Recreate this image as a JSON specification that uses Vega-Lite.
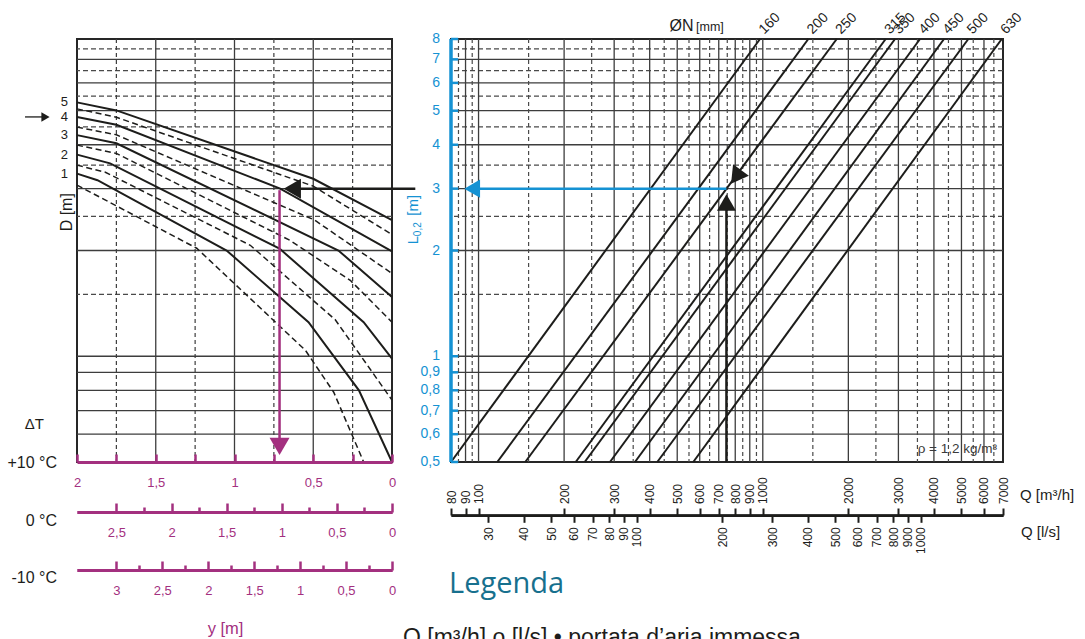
{
 "$schema": "https://vega.github.io/schema/vega-lite/v6.json",
 "autosize": {"type": "pad"},
 "padding": {"left": 6, "top": 9, "right": 5, "bottom": 0},
 "bounds": "flush",
 "spacing": 59,
 "config": {
  "view": {"stroke": "#262626", "strokeWidth": 2},
  "font": "Liberation Sans",
  "axis": {"grid": false, "labelFont": "Liberation Sans", "labelOverlap": false, "labelFlush": false, "labelBound": false},
  "text": {"font": "Liberation Sans"}
 },
 "datasets": {
  "hgrid": [
   {"L": 0.6, "k": "s"}, {"L": 0.7, "k": "s"}, {"L": 0.8, "k": "s"}, {"L": 0.9, "k": "s"}, {"L": 1, "k": "s"},
   {"L": 2, "k": "s"}, {"L": 3, "k": "s"}, {"L": 4, "k": "s"}, {"L": 5, "k": "s"}, {"L": 6, "k": "s"}, {"L": 7, "k": "s"},
   {"L": 1.5, "k": "d"}, {"L": 2.5, "k": "d"}, {"L": 3.5, "k": "d"}, {"L": 4.5, "k": "d"}, {"L": 5.5, "k": "d"}, {"L": 6.5, "k": "d"}, {"L": 7.5, "k": "d"}
  ],
  "yticks": [
   {"L": 0.5, "lab": "0,5"}, {"L": 0.6, "lab": "0,6"}, {"L": 0.7, "lab": "0,7"}, {"L": 0.8, "lab": "0,8"}, {"L": 0.9, "lab": "0,9"},
   {"L": 1, "lab": "1"}, {"L": 2, "lab": "2"}, {"L": 3, "lab": "3"}, {"L": 4, "lab": "4"}, {"L": 5, "lab": "5"},
   {"L": 6, "lab": "6"}, {"L": 7, "lab": "7"}, {"L": 8, "lab": "8"}
  ],
  "vgridL": [
   {"ym": 0.5, "k": "s"}, {"ym": 1, "k": "s"}, {"ym": 1.5, "k": "s"},
   {"ym": 0.25, "k": "d"}, {"ym": 0.75, "k": "d"}, {"ym": 1.25, "k": "d"}, {"ym": 1.75, "k": "d"}
  ],
  "vgridR": [
   {"Q": 90, "k": "s"}, {"Q": 100, "k": "s"}, {"Q": 200, "k": "s"}, {"Q": 300, "k": "s"}, {"Q": 400, "k": "s"}, {"Q": 500, "k": "s"},
   {"Q": 600, "k": "s"}, {"Q": 700, "k": "s"}, {"Q": 800, "k": "s"}, {"Q": 900, "k": "s"}, {"Q": 1000, "k": "s"}, {"Q": 2000, "k": "s"},
   {"Q": 3000, "k": "s"}, {"Q": 4000, "k": "s"}, {"Q": 5000, "k": "s"}, {"Q": 6000, "k": "s"},
   {"Q": 85, "k": "d"}, {"Q": 95, "k": "d"}, {"Q": 150, "k": "d"}, {"Q": 250, "k": "d"}, {"Q": 350, "k": "d"}, {"Q": 450, "k": "d"},
   {"Q": 550, "k": "d"}, {"Q": 650, "k": "d"}, {"Q": 750, "k": "d"}, {"Q": 850, "k": "d"}, {"Q": 950, "k": "d"}, {"Q": 1500, "k": "d"},
   {"Q": 2500, "k": "d"}, {"Q": 3500, "k": "d"}, {"Q": 4500, "k": "d"}, {"Q": 5500, "k": "d"}, {"Q": 6500, "k": "d"}
  ],
  "curves": [
   {"D": "5", "k": "s", "ym": 2, "L": 5.28}, {"D": "5", "k": "s", "ym": 1.75, "L": 5.01}, {"D": "5", "k": "s", "ym": 0.5, "L": 3.2}, {"D": "5", "k": "s", "ym": 0, "L": 2.44},
   {"D": "4.5", "k": "d", "ym": 2, "L": 5.06}, {"D": "4.5", "k": "d", "ym": 1.75, "L": 4.79}, {"D": "4.5", "k": "d", "ym": 0.5, "L": 3.05}, {"D": "4.5", "k": "d", "ym": 0, "L": 2.22},
   {"D": "4", "k": "s", "ym": 2, "L": 4.8}, {"D": "4", "k": "s", "ym": 1.75, "L": 4.56}, {"D": "4", "k": "s", "ym": 0.71, "L": 3.0}, {"D": "4", "k": "s", "ym": 0, "L": 1.99},
   {"D": "3.5", "k": "d", "ym": 2, "L": 4.49}, {"D": "3.5", "k": "d", "ym": 1.75, "L": 4.27}, {"D": "3.5", "k": "d", "ym": 0.49, "L": 2.44}, {"D": "3.5", "k": "d", "ym": 0, "L": 1.72},
   {"D": "3", "k": "s", "ym": 2, "L": 4.26}, {"D": "3", "k": "s", "ym": 1.75, "L": 4.04}, {"D": "3", "k": "s", "ym": 0.34, "L": 2.0}, {"D": "3", "k": "s", "ym": 0, "L": 1.475},
   {"D": "2.5", "k": "d", "ym": 2, "L": 3.99}, {"D": "2.5", "k": "d", "ym": 1.75, "L": 3.78}, {"D": "2.5", "k": "d", "ym": 0.65, "L": 2.14}, {"D": "2.5", "k": "d", "ym": 0.265, "L": 1.645}, {"D": "2.5", "k": "d", "ym": 0, "L": 1.25},
   {"D": "2", "k": "s", "ym": 2, "L": 3.75}, {"D": "2", "k": "s", "ym": 1.79, "L": 3.54}, {"D": "2", "k": "s", "ym": 0.714, "L": 2.025}, {"D": "2", "k": "s", "ym": 0.18, "L": 1.25}, {"D": "2", "k": "s", "ym": 0, "L": 0.985},
   {"D": "1.5", "k": "d", "ym": 2, "L": 3.5}, {"D": "1.5", "k": "d", "ym": 1.82, "L": 3.34}, {"D": "1.5", "k": "d", "ym": 0.9, "L": 2.07}, {"D": "1.5", "k": "d", "ym": 0.36, "L": 1.27}, {"D": "1.5", "k": "d", "ym": 0, "L": 0.75},
   {"D": "1", "k": "s", "ym": 2, "L": 3.31}, {"D": "1", "k": "s", "ym": 1.87, "L": 3.17}, {"D": "1", "k": "s", "ym": 1.05, "L": 2.0}, {"D": "1", "k": "s", "ym": 0.53, "L": 1.25}, {"D": "1", "k": "s", "ym": 0.21, "L": 0.8}, {"D": "1", "k": "s", "ym": 0, "L": 0.5},
   {"D": "0.5", "k": "d", "ym": 2, "L": 3.07}, {"D": "0.5", "k": "d", "ym": 1.24, "L": 2.03}, {"D": "0.5", "k": "d", "ym": 0.55, "L": 1.04}, {"D": "0.5", "k": "d", "ym": 0.37, "L": 0.79}, {"D": "0.5", "k": "d", "ym": 0.18, "L": 0.5}
  ],
  "dn": [
   {"DN": "160", "end": "b", "Q": 80, "L": 0.5}, {"DN": "160", "end": "t", "Q": 977.7, "L": 8},
   {"DN": "200", "end": "b", "Q": 116.4, "L": 0.5}, {"DN": "200", "end": "t", "Q": 1446, "L": 8},
   {"DN": "250", "end": "b", "Q": 146, "L": 0.5}, {"DN": "250", "end": "t", "Q": 1820, "L": 8},
   {"DN": "315", "end": "b", "Q": 219.7, "L": 0.5}, {"DN": "315", "end": "t", "Q": 2706, "L": 8},
   {"DN": "350", "end": "b", "Q": 236.3, "L": 0.5}, {"DN": "350", "end": "t", "Q": 2919, "L": 8},
   {"DN": "400", "end": "b", "Q": 290, "L": 0.5}, {"DN": "400", "end": "t", "Q": 3574, "L": 8},
   {"DN": "450", "end": "b", "Q": 355.1, "L": 0.5}, {"DN": "450", "end": "t", "Q": 4341, "L": 8},
   {"DN": "500", "end": "b", "Q": 425.4, "L": 0.5}, {"DN": "500", "end": "t", "Q": 5286, "L": 8},
   {"DN": "630", "end": "b", "Q": 569.4, "L": 0.5}, {"DN": "630", "end": "t", "Q": 6930, "L": 8}
  ],
  "dlabels": [
   {"lab": "5", "L": 5.28}, {"lab": "4", "L": 4.8}, {"lab": "3", "L": 4.26}, {"lab": "2", "L": 3.75}, {"lab": "1", "L": 3.31}
  ]
 },
 "hconcat": [
  {
   "width": 315,
   "height": 423,
   "resolve": {"scale": {"x": "independent"}},
   "layer": [
    {"data": {"name": "hgrid"}, "transform": [{"filter": "datum.k == 's'"}],
     "mark": {"type": "rule", "color": "#3d3d3d", "strokeWidth": 1.3},
     "encoding": {"y": {"field": "L", "type": "quantitative", "scale": {"type": "log", "domain": [0.5, 8], "nice": false}, "axis": null}}},
    {"data": {"name": "hgrid"}, "transform": [{"filter": "datum.k == 'd'"}],
     "mark": {"type": "rule", "color": "#4a4a4a", "strokeWidth": 1.2, "strokeDash": [5, 3]},
     "encoding": {"y": {"field": "L", "type": "quantitative", "scale": {"type": "log", "domain": [0.5, 8], "nice": false}, "axis": null}}},
    {"data": {"name": "vgridL"}, "transform": [{"filter": "datum.k == 's'"}],
     "mark": {"type": "rule", "color": "#3d3d3d", "strokeWidth": 1.3},
     "encoding": {"x": {"field": "ym", "type": "quantitative", "scale": {"domain": [0, 2], "reverse": true, "nice": false, "zero": false},
       "axis": {"orient": "bottom", "values": [0, 0.25, 0.5, 0.75, 1, 1.25, 1.5, 1.75, 2], "format": "~g",
        "labelExpr": "datum.value * 2 % 1 == 0 ? replace(datum.label, '.', ',') : ''",
        "tickSize": -8, "tickWidth": 2.5, "tickColor": "#a3307f", "domainColor": "#a3307f", "domainWidth": 3,
        "labelColor": "#a3307f", "labelFontSize": 13, "labelPadding": 22, "title": null, "zindex": 1}}}},
    {"data": {"name": "vgridL"}, "transform": [{"filter": "datum.k == 'd'"}],
     "mark": {"type": "rule", "color": "#3d3d3d", "strokeWidth": 1.2, "strokeDash": [4, 3]},
     "encoding": {"x": {"field": "ym", "type": "quantitative", "scale": {"domain": [0, 2], "reverse": true, "nice": false, "zero": false}, "axis": null}}},
    {"data": {"name": "curves"}, "transform": [{"filter": "datum.k == 's'"}],
     "mark": {"type": "line", "color": "#1d1d1b", "strokeWidth": 2},
     "encoding": {
      "x": {"field": "ym", "type": "quantitative", "scale": {"domain": [0, 2], "reverse": true, "nice": false, "zero": false}, "axis": null},
      "y": {"field": "L", "type": "quantitative", "scale": {"type": "log", "domain": [0.5, 8], "nice": false}, "axis": null},
      "detail": {"field": "D", "type": "nominal"}}},
    {"data": {"name": "curves"}, "transform": [{"filter": "datum.k == 'd'"}],
     "mark": {"type": "line", "color": "#1d1d1b", "strokeWidth": 1.5, "strokeDash": [6, 3.5]},
     "encoding": {
      "x": {"field": "ym", "type": "quantitative", "scale": {"domain": [0, 2], "reverse": true, "nice": false, "zero": false}, "axis": null},
      "y": {"field": "L", "type": "quantitative", "scale": {"type": "log", "domain": [0.5, 8], "nice": false}, "axis": null},
      "detail": {"field": "D", "type": "nominal"}}},
    {"data": {"values": [{"a": 0.633, "b": -0.148, "L": 3}]},
     "mark": {"type": "rule", "color": "#1d1d1b", "strokeWidth": 2.5},
     "encoding": {
      "x": {"field": "a", "type": "quantitative", "scale": {"domain": [0, 2], "reverse": true, "nice": false, "zero": false}, "axis": null},
      "x2": {"field": "b"},
      "y": {"field": "L", "type": "quantitative", "scale": {"type": "log", "domain": [0.5, 8], "nice": false}, "axis": null}}},
    {"data": {"values": [{"ym": 0.633, "L": 3}]},
     "mark": {"type": "point", "shape": "triangle-left", "filled": true, "size": 400, "color": "#1d1d1b", "opacity": 1},
     "encoding": {
      "x": {"field": "ym", "type": "quantitative", "scale": {"domain": [0, 2], "reverse": true, "nice": false, "zero": false}, "axis": null},
      "y": {"field": "L", "type": "quantitative", "scale": {"type": "log", "domain": [0.5, 8], "nice": false}, "axis": null}}},
    {"data": {"values": [{"ym": 0.714, "L1": 2.97, "L2": 0.56}]},
     "mark": {"type": "rule", "color": "#a3307f", "strokeWidth": 2.5},
     "encoding": {
      "x": {"field": "ym", "type": "quantitative", "scale": {"domain": [0, 2], "reverse": true, "nice": false, "zero": false}, "axis": null},
      "y": {"field": "L1", "type": "quantitative", "scale": {"type": "log", "domain": [0.5, 8], "nice": false}, "axis": null},
      "y2": {"field": "L2"}}},
    {"data": {"values": [{"ym": 0.714, "L": 0.554}]},
     "mark": {"type": "point", "shape": "triangle-down", "filled": true, "size": 400, "color": "#a3307f", "opacity": 1},
     "encoding": {
      "x": {"field": "ym", "type": "quantitative", "scale": {"domain": [0, 2], "reverse": true, "nice": false, "zero": false}, "axis": null},
      "y": {"field": "L", "type": "quantitative", "scale": {"type": "log", "domain": [0.5, 8], "nice": false}, "axis": null}}},
    {"data": {"name": "dlabels"},
     "mark": {"type": "text", "align": "right", "baseline": "middle", "dx": -9, "fontSize": 13, "color": "#1d1d1b"},
     "encoding": {
      "x": {"datum": 2, "type": "quantitative", "scale": {"domain": [0, 2], "reverse": true, "nice": false, "zero": false}, "axis": null},
      "y": {"field": "L", "type": "quantitative", "scale": {"type": "log", "domain": [0.5, 8], "nice": false}, "axis": null},
      "text": {"field": "lab"}}},
    {"data": {"values": [{"a": 2.33, "b": 2.21, "L": 4.8}]},
     "mark": {"type": "rule", "color": "#1d1d1b", "strokeWidth": 1.3},
     "encoding": {
      "x": {"field": "a", "type": "quantitative", "scale": {"domain": [0, 2], "reverse": true, "nice": false, "zero": false}, "axis": null},
      "x2": {"field": "b"},
      "y": {"field": "L", "type": "quantitative", "scale": {"type": "log", "domain": [0.5, 8], "nice": false}, "axis": null}}},
    {"data": {"values": [{"ym": 2.2, "L": 4.8}]},
     "mark": {"type": "point", "shape": "triangle-right", "filled": true, "size": 90, "color": "#1d1d1b", "opacity": 1},
     "encoding": {
      "x": {"field": "ym", "type": "quantitative", "scale": {"domain": [0, 2], "reverse": true, "nice": false, "zero": false}, "axis": null},
      "y": {"field": "L", "type": "quantitative", "scale": {"type": "log", "domain": [0.5, 8], "nice": false}, "axis": null}}},
    {"data": {"values": [{"t": "D [m]", "ym": 2, "L": 2.57}]},
     "mark": {"type": "text", "angle": -90, "align": "center", "baseline": "middle", "dy": -10, "fontSize": 16, "color": "#1d1d1b"},
     "encoding": {
      "x": {"field": "ym", "type": "quantitative", "scale": {"domain": [0, 2], "reverse": true, "nice": false, "zero": false}, "axis": null},
      "y": {"field": "L", "type": "quantitative", "scale": {"type": "log", "domain": [0.5, 8], "nice": false}, "axis": null},
      "text": {"field": "t"}}},
    {"data": {"values": [{"t": "ΔT", "ym": 2, "L": 0.5}]},
     "mark": {"type": "text", "align": "right", "baseline": "middle", "dx": -33, "dy": -38, "fontSize": 15, "color": "#1d1d1b"},
     "encoding": {
      "x": {"field": "ym", "type": "quantitative", "scale": {"domain": [0, 2], "reverse": true, "nice": false, "zero": false}, "axis": null},
      "y": {"field": "L", "type": "quantitative", "scale": {"type": "log", "domain": [0.5, 8], "nice": false}, "axis": null},
      "text": {"field": "t"}}},
    {"data": {"values": [{"t": "+10 °C", "ym": 2, "L": 0.5}]},
     "mark": {"type": "text", "align": "right", "baseline": "middle", "dx": -20, "dy": 1, "fontSize": 16, "color": "#1d1d1b"},
     "encoding": {
      "x": {"field": "ym", "type": "quantitative", "scale": {"domain": [0, 2], "reverse": true, "nice": false, "zero": false}, "axis": null},
      "y": {"field": "L", "type": "quantitative", "scale": {"type": "log", "domain": [0.5, 8], "nice": false}, "axis": null},
      "text": {"field": "t"}}},
    {"data": {"values": [{"t": "0 °C", "ym": 2, "L": 0.5}]},
     "mark": {"type": "text", "align": "right", "baseline": "middle", "dx": -20, "dy": 59, "fontSize": 16, "color": "#1d1d1b"},
     "encoding": {
      "x": {"field": "ym", "type": "quantitative", "scale": {"domain": [0, 2], "reverse": true, "nice": false, "zero": false}, "axis": null},
      "y": {"field": "L", "type": "quantitative", "scale": {"type": "log", "domain": [0.5, 8], "nice": false}, "axis": null},
      "text": {"field": "t"}}},
    {"data": {"values": [{"t": "-10 °C", "ym": 2, "L": 0.5}]},
     "mark": {"type": "text", "align": "right", "baseline": "middle", "dx": -20, "dy": 116, "fontSize": 16, "color": "#1d1d1b"},
     "encoding": {
      "x": {"field": "ym", "type": "quantitative", "scale": {"domain": [0, 2], "reverse": true, "nice": false, "zero": false}, "axis": null},
      "y": {"field": "L", "type": "quantitative", "scale": {"type": "log", "domain": [0.5, 8], "nice": false}, "axis": null},
      "text": {"field": "t"}}},
    {"data": {"values": [{"t": "y [m]", "ym": 1, "L": 0.5}]},
     "mark": {"type": "text", "align": "center", "baseline": "middle", "dx": -9, "dy": 167, "fontSize": 16.5, "color": "#a3307f"},
     "encoding": {
      "x": {"field": "ym", "type": "quantitative", "scale": {"domain": [0, 2], "reverse": true, "nice": false, "zero": false}, "axis": null},
      "y": {"field": "L", "type": "quantitative", "scale": {"type": "log", "domain": [0.5, 8], "nice": false}, "axis": null},
      "text": {"field": "t"}}},
    {"data": {"values": [{"v": 1}]},
     "mark": {"type": "rule", "opacity": 0},
     "encoding": {"x": {"field": "v", "type": "quantitative", "scale": {"domain": [0, 2.857143], "reverse": true, "nice": false, "zero": false},
       "axis": {"orient": "bottom", "offset": 50, "values": [0, 0.5, 1, 1.5, 2, 2.5], "format": "~g",
        "labelExpr": "replace(datum.label, '.', ',')",
        "tickSize": -9, "tickWidth": 2.5, "tickColor": "#a3307f", "domainColor": "#a3307f", "domainWidth": 3,
        "labelColor": "#a3307f", "labelFontSize": 13, "labelPadding": 23, "title": null, "zindex": 1}}}},
    {"data": {"values": [{"v": 1}]},
     "mark": {"type": "rule", "opacity": 0},
     "encoding": {"x": {"field": "v", "type": "quantitative", "scale": {"domain": [0, 2.857143], "reverse": true, "nice": false, "zero": false},
       "axis": {"orient": "bottom", "offset": 50, "values": [0.25, 0.75, 1.25, 1.75, 2.25], "labels": false,
        "tickSize": -5, "tickWidth": 2.5, "tickColor": "#a3307f", "domainColor": "#a3307f", "domainWidth": 3, "title": null, "zindex": 1}}}},
    {"data": {"values": [{"v": 1}]},
     "mark": {"type": "rule", "opacity": 0},
     "encoding": {"x": {"field": "v", "type": "quantitative", "scale": {"domain": [0, 3.428571], "reverse": true, "nice": false, "zero": false},
       "axis": {"orient": "bottom", "offset": 108, "values": [0, 0.5, 1, 1.5, 2, 2.5, 3], "format": "~g",
        "labelExpr": "replace(datum.label, '.', ',')",
        "tickSize": -9, "tickWidth": 2.5, "tickColor": "#a3307f", "domainColor": "#a3307f", "domainWidth": 3,
        "labelColor": "#a3307f", "labelFontSize": 13, "labelPadding": 23, "title": null, "zindex": 1}}}},
    {"data": {"values": [{"v": 1}]},
     "mark": {"type": "rule", "opacity": 0},
     "encoding": {"x": {"field": "v", "type": "quantitative", "scale": {"domain": [0, 3.428571], "reverse": true, "nice": false, "zero": false},
       "axis": {"orient": "bottom", "offset": 108, "values": [0.25, 0.75, 1.25, 1.75, 2.25, 2.75], "labels": false,
        "tickSize": -5, "tickWidth": 2.5, "tickColor": "#a3307f", "domainColor": "#a3307f", "domainWidth": 3, "title": null, "zindex": 1}}}}
   ]
  },
  {
   "width": 552,
   "height": 423,
   "resolve": {"scale": {"x": "independent"}},
   "layer": [
    {"data": {"name": "hgrid"}, "transform": [{"filter": "datum.k == 's'"}],
     "mark": {"type": "rule", "color": "#3d3d3d", "strokeWidth": 1.3},
     "encoding": {"y": {"field": "L", "type": "quantitative", "scale": {"type": "log", "domain": [0.5, 8], "nice": false}, "axis": null}}},
    {"data": {"name": "hgrid"}, "transform": [{"filter": "datum.k == 'd'"}],
     "mark": {"type": "rule", "color": "#4a4a4a", "strokeWidth": 1.2, "strokeDash": [5, 3]},
     "encoding": {"y": {"field": "L", "type": "quantitative", "scale": {"type": "log", "domain": [0.5, 8], "nice": false}, "axis": null}}},
    {"data": {"name": "vgridR"}, "transform": [{"filter": "datum.k == 's'"}],
     "mark": {"type": "rule", "color": "#3d3d3d", "strokeWidth": 1.3},
     "encoding": {"x": {"field": "Q", "type": "quantitative", "scale": {"type": "log", "domain": [80, 7000], "nice": false}, "axis": null}}},
    {"data": {"name": "vgridR"}, "transform": [{"filter": "datum.k == 'd'"}],
     "mark": {"type": "rule", "color": "#4a4a4a", "strokeWidth": 1.2, "strokeDash": [4, 3]},
     "encoding": {"x": {"field": "Q", "type": "quantitative", "scale": {"type": "log", "domain": [80, 7000], "nice": false}, "axis": null}}},
    {"data": {"name": "dn"},
     "mark": {"type": "line", "color": "#1d1d1b", "strokeWidth": 2},
     "encoding": {
      "x": {"field": "Q", "type": "quantitative", "scale": {"type": "log", "domain": [80, 7000], "nice": false}, "axis": null},
      "y": {"field": "L", "type": "quantitative", "scale": {"type": "log", "domain": [0.5, 8], "nice": false}, "axis": null},
      "detail": {"field": "DN", "type": "nominal"}}},
    {"data": {"name": "dn"}, "transform": [{"filter": "datum.end == 't'"}],
     "mark": {"type": "text", "angle": -45, "align": "left", "baseline": "middle", "dx": 6, "dy": -4, "fontSize": 14, "color": "#1d1d1b"},
     "encoding": {
      "x": {"field": "Q", "type": "quantitative", "scale": {"type": "log", "domain": [80, 7000], "nice": false}, "axis": null},
      "y": {"field": "L", "type": "quantitative", "scale": {"type": "log", "domain": [0.5, 8], "nice": false}, "axis": null},
      "text": {"field": "DN"}}},
    {"data": {"values": [{"a": 95, "b": 745, "L": 3}]},
     "mark": {"type": "rule", "color": "#1592d3", "strokeWidth": 2.5},
     "encoding": {
      "x": {"field": "a", "type": "quantitative", "scale": {"type": "log", "domain": [80, 7000], "nice": false}, "axis": null},
      "x2": {"field": "b"},
      "y": {"field": "L", "type": "quantitative", "scale": {"type": "log", "domain": [0.5, 8], "nice": false}, "axis": null}}},
    {"data": {"values": [{"Q": 95, "L": 3}]},
     "mark": {"type": "point", "shape": "triangle-left", "filled": true, "size": 330, "color": "#1592d3", "opacity": 1},
     "encoding": {
      "x": {"field": "Q", "type": "quantitative", "scale": {"type": "log", "domain": [80, 7000], "nice": false}, "axis": null},
      "y": {"field": "L", "type": "quantitative", "scale": {"type": "log", "domain": [0.5, 8], "nice": false}, "axis": null}}},
    {"data": {"values": [{"Q": 745, "L1": 0.5, "L2": 2.62}]},
     "mark": {"type": "rule", "color": "#1d1d1b", "strokeWidth": 2.5},
     "encoding": {
      "x": {"field": "Q", "type": "quantitative", "scale": {"type": "log", "domain": [80, 7000], "nice": false}, "axis": null},
      "y": {"field": "L1", "type": "quantitative", "scale": {"type": "log", "domain": [0.5, 8], "nice": false}, "axis": null},
      "y2": {"field": "L2"}}},
    {"data": {"values": [{"Q": 745, "L": 2.74}]},
     "mark": {"type": "point", "shape": "triangle-up", "filled": true, "size": 360, "color": "#1d1d1b", "opacity": 1},
     "encoding": {
      "x": {"field": "Q", "type": "quantitative", "scale": {"type": "log", "domain": [80, 7000], "nice": false}, "axis": null},
      "y": {"field": "L", "type": "quantitative", "scale": {"type": "log", "domain": [0.5, 8], "nice": false}, "axis": null}}},
    {"data": {"values": [{"Q": 805, "L": 3.24}]},
     "mark": {"type": "point", "shape": "triangle-up", "angle": 216, "filled": true, "size": 380, "color": "#1d1d1b", "opacity": 1},
     "encoding": {
      "x": {"field": "Q", "type": "quantitative", "scale": {"type": "log", "domain": [80, 7000], "nice": false}, "axis": null},
      "y": {"field": "L", "type": "quantitative", "scale": {"type": "log", "domain": [0.5, 8], "nice": false}, "axis": null}}},
    {"data": {"values": [{"Q": 80}]},
     "mark": {"type": "rule", "color": "#1592d3", "strokeWidth": 3.5},
     "encoding": {
      "x": {"field": "Q", "type": "quantitative", "scale": {"type": "log", "domain": [80, 7000], "nice": false}, "axis": null}}},
    {"data": {"name": "yticks"},
     "mark": {"type": "rule", "color": "#1592d3", "strokeWidth": 2.5},
     "encoding": {
      "x": {"datum": 80, "type": "quantitative", "scale": {"type": "log", "domain": [80, 7000], "nice": false}, "axis": null},
      "x2": {"datum": 84.8},
      "y": {"field": "L", "type": "quantitative", "scale": {"type": "log", "domain": [0.5, 8], "nice": false}, "axis": null}}},
    {"data": {"name": "yticks"},
     "mark": {"type": "text", "align": "right", "baseline": "middle", "dx": -11, "fontSize": 14, "color": "#1592d3"},
     "encoding": {
      "x": {"datum": 80, "type": "quantitative", "scale": {"type": "log", "domain": [80, 7000], "nice": false}, "axis": null},
      "y": {"field": "L", "type": "quantitative", "scale": {"type": "log", "domain": [0.5, 8], "nice": false}, "axis": null},
      "text": {"field": "lab"}}},
    {"data": {"values": [{"t": "ØN", "Q": 977.7, "L": 8}]},
     "mark": {"type": "text", "align": "right", "baseline": "alphabetic", "dx": -66.5, "dy": -8, "fontSize": 16, "color": "#1d1d1b"},
     "encoding": {
      "x": {"field": "Q", "type": "quantitative", "scale": {"type": "log", "domain": [80, 7000], "nice": false}, "axis": null},
      "y": {"field": "L", "type": "quantitative", "scale": {"type": "log", "domain": [0.5, 8], "nice": false}, "axis": null},
      "text": {"field": "t"}}},
    {"data": {"values": [{"t": "[mm]", "Q": 977.7, "L": 8}]},
     "mark": {"type": "text", "align": "left", "baseline": "alphabetic", "dx": -64, "dy": -8, "fontSize": 12.5, "color": "#1d1d1b"},
     "encoding": {
      "x": {"field": "Q", "type": "quantitative", "scale": {"type": "log", "domain": [80, 7000], "nice": false}, "axis": null},
      "y": {"field": "L", "type": "quantitative", "scale": {"type": "log", "domain": [0.5, 8], "nice": false}, "axis": null},
      "text": {"field": "t"}}},
    {"data": {"values": [{"t": "ρ = 1,2 kg/m³", "Q": 7000, "L": 0.5}]},
     "mark": {"type": "text", "align": "right", "baseline": "middle", "dx": -6, "dy": -13, "fontSize": 13.5, "color": "#3a3a3a"},
     "encoding": {
      "x": {"field": "Q", "type": "quantitative", "scale": {"type": "log", "domain": [80, 7000], "nice": false}, "axis": null},
      "y": {"field": "L", "type": "quantitative", "scale": {"type": "log", "domain": [0.5, 8], "nice": false}, "axis": null},
      "text": {"field": "t"}}},
    {"data": {"values": [{"t": "Q [m³/h]", "Q": 7000, "L": 0.5}]},
     "mark": {"type": "text", "align": "left", "baseline": "middle", "dx": 17, "dy": 33, "fontSize": 15, "color": "#1d1d1b"},
     "encoding": {
      "x": {"field": "Q", "type": "quantitative", "scale": {"type": "log", "domain": [80, 7000], "nice": false}, "axis": null},
      "y": {"field": "L", "type": "quantitative", "scale": {"type": "log", "domain": [0.5, 8], "nice": false}, "axis": null},
      "text": {"field": "t"}}},
    {"data": {"values": [{"t": "Q [l/s]", "Q": 7000, "L": 0.5}]},
     "mark": {"type": "text", "align": "left", "baseline": "middle", "dx": 18, "dy": 70, "fontSize": 15, "color": "#1d1d1b"},
     "encoding": {
      "x": {"field": "Q", "type": "quantitative", "scale": {"type": "log", "domain": [80, 7000], "nice": false}, "axis": null},
      "y": {"field": "L", "type": "quantitative", "scale": {"type": "log", "domain": [0.5, 8], "nice": false}, "axis": null},
      "text": {"field": "t"}}},
    {"data": {"values": [{"t": "Legenda", "Q": 80, "L": 0.5}]},
     "mark": {"type": "text", "align": "left", "baseline": "alphabetic", "dx": -2, "dy": 131, "fontSize": 29, "font": "Open Sans", "color": "#17708e"},
     "encoding": {
      "x": {"field": "Q", "type": "quantitative", "scale": {"type": "log", "domain": [80, 7000], "nice": false}, "axis": null},
      "y": {"field": "L", "type": "quantitative", "scale": {"type": "log", "domain": [0.5, 8], "nice": false}, "axis": null},
      "text": {"field": "t"}}},
    {"data": {"values": [{"t": "Q [m³/h] o [l/s]  •  portata d’aria immessa", "Q": 80, "L": 0.5}]},
     "mark": {"type": "text", "align": "left", "baseline": "alphabetic", "dx": -48, "dy": 183, "fontSize": 23, "color": "#1d1d1b"},
     "encoding": {
      "x": {"field": "Q", "type": "quantitative", "scale": {"type": "log", "domain": [80, 7000], "nice": false}, "axis": null},
      "y": {"field": "L", "type": "quantitative", "scale": {"type": "log", "domain": [0.5, 8], "nice": false}, "axis": null},
      "text": {"field": "t"}}},
    {"data": {"values": [{"t": "L", "Q": 80, "L": 2.14}]},
     "mark": {"type": "text", "angle": -90, "align": "center", "baseline": "middle", "dy": -38, "fontSize": 15, "color": "#1592d3"},
     "encoding": {
      "x": {"field": "Q", "type": "quantitative", "scale": {"type": "log", "domain": [80, 7000], "nice": false}, "axis": null},
      "y": {"field": "L", "type": "quantitative", "scale": {"type": "log", "domain": [0.5, 8], "nice": false}, "axis": null},
      "text": {"field": "t"}}},
    {"data": {"values": [{"t": "0,2", "Q": 80, "L": 2.3}]},
     "mark": {"type": "text", "angle": -90, "align": "center", "baseline": "middle", "dy": -33, "fontSize": 10, "color": "#1592d3"},
     "encoding": {
      "x": {"field": "Q", "type": "quantitative", "scale": {"type": "log", "domain": [80, 7000], "nice": false}, "axis": null},
      "y": {"field": "L", "type": "quantitative", "scale": {"type": "log", "domain": [0.5, 8], "nice": false}, "axis": null},
      "text": {"field": "t"}}},
    {"data": {"values": [{"t": "[m]", "Q": 80, "L": 2.69}]},
     "mark": {"type": "text", "angle": -90, "align": "center", "baseline": "middle", "dy": -38, "fontSize": 15, "color": "#1592d3"},
     "encoding": {
      "x": {"field": "Q", "type": "quantitative", "scale": {"type": "log", "domain": [80, 7000], "nice": false}, "axis": null},
      "y": {"field": "L", "type": "quantitative", "scale": {"type": "log", "domain": [0.5, 8], "nice": false}, "axis": null},
      "text": {"field": "t"}}},
    {"data": {"values": [{"v": 100}]},
     "mark": {"type": "rule", "opacity": 0},
     "encoding": {"x": {"field": "v", "type": "quantitative", "scale": {"type": "log", "domain": [80, 7000], "nice": false},
       "axis": {"orient": "top", "offset": -476, "values": [80, 90, 100, 200, 300, 400, 500, 600, 700, 800, 900, 1000, 2000, 3000, 4000, 5000, 6000, 7000],
        "format": "d", "labelAngle": -90, "labelAlign": "left", "labelBaseline": "middle",
        "tickSize": 7, "tickWidth": 2, "tickColor": "#1d1d1b", "domainColor": "#1d1d1b", "domainWidth": 2.5,
        "labelColor": "#1d1d1b", "labelFontSize": 12, "labelPadding": 4.5, "title": null, "zindex": 1}}}},
    {"data": {"values": [{"v": 100}]},
     "mark": {"type": "rule", "opacity": 0},
     "encoding": {"x": {"field": "v", "type": "quantitative", "scale": {"type": "log", "domain": [22.2222, 1944.444], "nice": false},
       "axis": {"orient": "bottom", "offset": 53.3, "values": [30, 40, 50, 60, 70, 80, 90, 100, 200, 300, 400, 500, 600, 700, 800, 900, 1000],
        "format": "d", "labelAngle": -90, "labelAlign": "right", "labelBaseline": "middle",
        "tickSize": 7, "tickWidth": 2, "tickColor": "#1d1d1b", "domainColor": "#1d1d1b", "domainWidth": 2.5,
        "labelColor": "#1d1d1b", "labelFontSize": 12, "labelPadding": 4.5, "title": null, "zindex": 1}}}}
   ]
  }
 ]
}
